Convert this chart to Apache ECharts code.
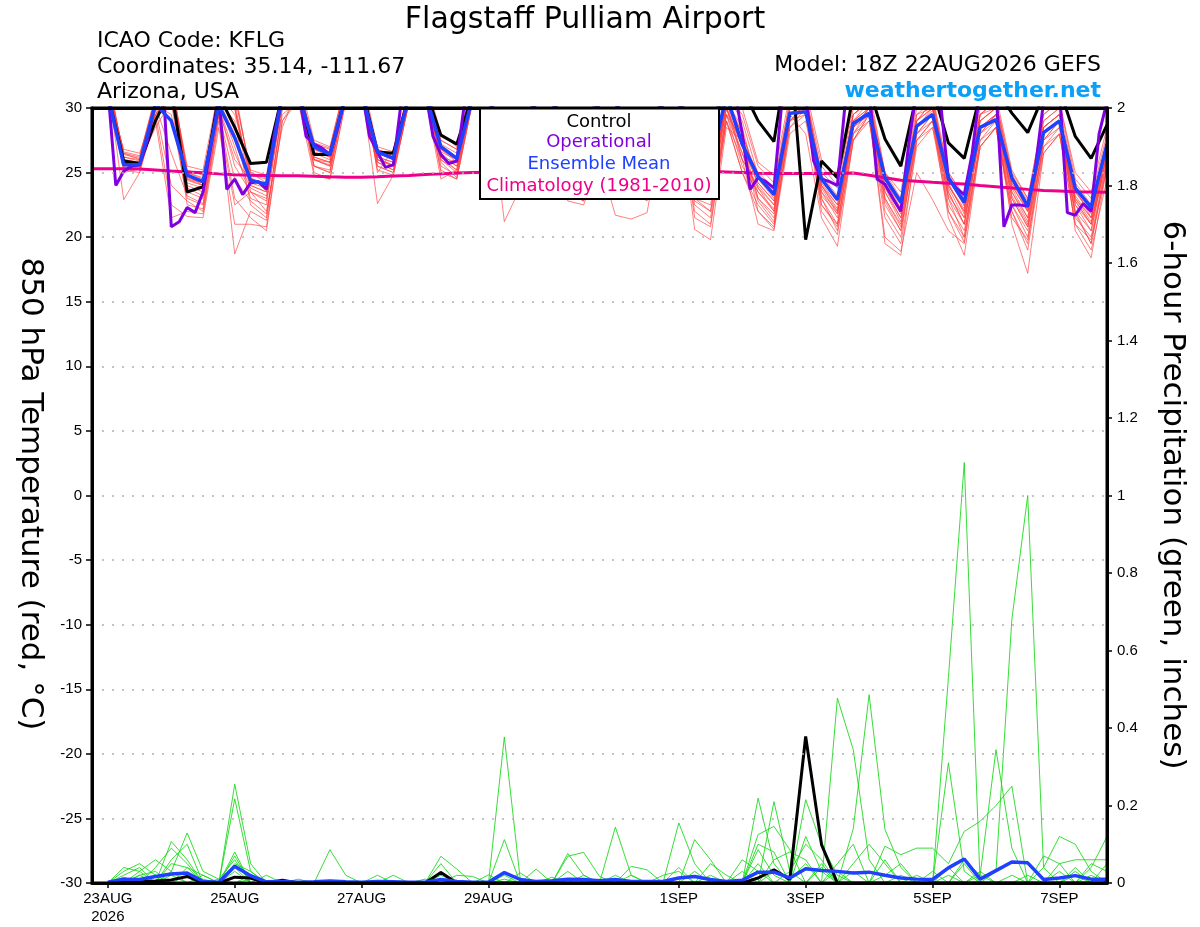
<!DOCTYPE html>
<html><head><meta charset="utf-8">
<script src="https://cdn.jsdelivr.net/npm/echarts@6/dist/echarts.min.js"></script>
<style>html,body{margin:0;padding:0;background:#fff}#chart{width:1200px;height:927px}</style>
</head><body><div id="chart"></div>
<script>
// hours are counted from the model run, 18Z 22AUG2026
const tickHours = [6, 54, 102, 150, 222, 270, 318, 366];
const tickLabels = ['23AUG\n2026', '25AUG', '27AUG', '29AUG', '1SEP', '3SEP', '5SEP', '7SEP'];
const SIX_HOURLY_START = 6;   // 00Z 23AUG
const CLIMO_START = 0;        // 18Z 22AUG

const controlTemp = [31.0, 25.9,25.7,29.0,31.5, 23.5,23.9,31.0,28.5, 25.7,25.8,31.0,31.5, 26.4,26.4,31.0,31.5, 26.6,26.5,31.0,31.5, 27.9,27.2,31.0,31.5, 26.5,26.0,31.0,31.5, 26.8,26.2,31.0,31.2, 26.0,25.5,31.0,31.5, 26.2,27.5,32.0,31.5, 29.0,27.4,35.0,19.8, 25.9,24.6,31.0,31.5, 27.6,25.5,31.0,31.5, 27.3,26.1,31.0,31.5, 29.6,28.1,31.0,31.5, 27.8,26.1,28.7];

// operational run is 3-hourly
const operationalTemp = [
  31.5,24.0,25.1,25.5,25.6,27.5,30.5,31.5,
  20.8,21.2,22.3,21.9,23.5,27.0,30.8,23.7,
  24.5,23.3,24.2,24.3,23.7,28.0,31.0,31.5,
  31.5,27.8,27.2,26.9,26.4,28.5,31.0,31.5,
  31.5,27.8,26.6,25.4,25.6,30.5,31.5,31.5,
  31.5,27.8,26.4,25.7,25.9,30.5,31.5,31.5,
  31.5,27.5,26.5,26.0,25.8,29.0,31.5,31.5,
  31.5,27.0,26.2,25.6,25.4,29.5,31.5,31.5,
  31.5,27.2,26.0,25.5,25.2,29.0,31.5,31.5,
  31.5,27.0,26.0,25.6,25.4,30.5,31.5,31.5,
  28.0,23.7,24.6,24.3,23.8,30.5,32.0,32.0,
  31.0,25.9,24.5,24.3,24.0,30.5,32.0,32.0,
  31.5,24.5,24.1,23.0,22.0,27.2,31.5,32.0,
  31.5,30.5,24.5,23.8,23.3,26.5,31.5,32.0,
  31.5,20.8,22.5,22.5,22.4,25.5,30.5,32.0,
  31.5,21.9,21.7,22.6,22.0,28.0,30.5];

const meanTemp = [31.0, 25.6,25.6,30.3,29.0, 24.8,24.3,30.2,27.7, 24.4,24.1,31.0,31.2, 27.0,26.4,31.0,31.2, 26.6,26.1,31.0,31.2, 27.0,26.1,30.8,31.0, 25.8,25.4,30.6,30.8, 26.0,25.5,30.5,30.6, 25.6,25.0,30.4,30.5, 25.2,25.5,31.0,27.2, 24.7,23.3,29.6,29.7, 24.5,22.9,28.8,29.6, 24.6,22.7,28.6,29.5, 24.6,22.7,28.5,29.1, 24.6,22.4,28.1,29.0, 23.8,22.3,27.2];

const climoTemp = [25.3, 25.3, 25.3,25.28,25.2,25.12, 25.05,24.98,24.9,24.84, 24.8,24.78,24.76,24.75, 24.72,24.67,24.63,24.63, 24.68,24.74,24.78,24.85, 24.9,24.97,25.0,25.03, 25.05,25.06,25.07,25.08, 25.09,25.1,25.1,25.11, 25.12,25.12,25.13,25.13, 25.13,25.1,25.05,25.0, 24.95,24.93,24.92,24.92, 24.93,24.95,24.97,24.8, 24.6,24.4,24.33,24.25, 24.18,24.12,24.0,23.9, 23.8,23.7,23.62,23.57, 23.52,23.5,23.47];

const tempMembers = [
  [32.0, 26.2,25.9,30.5,32.5, 24.8,24.0,31.0,30.0, 24.5,24.0,31.2,32.0, 27.0,26.5,31.5,32.0, 26.8,26.2,31.0,32.0, 27.2,26.5,31.5,32.2, 26.0,25.5,31.0,32.0, 26.2,25.8,31.0,31.5, 25.5,25.0,30.5,31.0, 25.0,24.6,30.8,28.0, 24.5,23.0,30.0,31.0, 24.2,22.5,29.0,30.5, 24.5,22.0,29.0,30.5, 24.0,22.0,29.5,30.0, 24.5,22.0,28.5,29.5, 23.5,22.0,27.0],
  [31.5, 25.5,25.6,29.5,31.0, 23.8,23.2,30.5,27.0, 23.0,22.5,30.5,31.5, 26.5,26.0,31.5,32.0, 26.0,25.6,31.0,31.5, 26.5,25.5,31.0,32.0, 25.8,25.2,31.0,31.8, 25.5,25.0,30.8,31.2, 24.8,24.2,30.5,30.8, 24.0,23.5,30.5,26.0, 23.8,22.5,29.5,30.5, 23.5,22.0,28.0,30.0, 23.8,21.5,28.5,29.8, 23.5,21.0,28.0,29.5, 23.8,21.5,28.0,29.0, 23.0,21.5,26.5],
  [32.5, 25.0,25.3,29.0,21.5, 22.0,21.8,29.0,22.5, 23.5,22.0,28.5,31.5, 25.5,25.0,31.0,32.0, 25.8,25.2,31.0,31.5, 26.0,25.2,31.0,31.8, 24.0,23.5,30.5,31.5, 23.5,22.8,30.0,31.0, 24.0,23.0,29.5,30.5, 23.0,22.0,29.0,25.0, 22.5,21.0,28.5,30.0, 23.0,20.5,27.5,29.5, 22.0,20.0,28.0,29.0, 22.5,20.5,27.0,28.5, 22.0,19.5,27.5,29.0, 21.5,20.0,26.0],
  [31.0, 26.8,26.5,30.0,32.0, 25.5,25.2,31.5,31.0, 25.0,24.6,32.0,32.5, 27.5,27.0,32.0,32.5, 27.0,26.6,31.5,32.5, 28.0,27.0,32.0,32.5, 26.8,26.2,31.5,32.0, 27.0,26.5,31.5,32.0, 26.5,26.0,31.0,31.5, 26.0,25.5,31.0,30.0, 25.8,24.8,31.0,31.5, 26.0,24.5,30.5,31.5, 25.0,23.5,30.5,31.0, 25.0,23.2,30.0,31.0, 25.2,23.0,29.5,30.5, 25.0,23.5,28.5],
  [31.8, 22.9,25.0,29.8,31.5, 24.2,23.8,30.5,29.0, 22.5,21.5,30.0,31.0, 26.0,25.5,31.0,31.5, 22.6,24.8,30.5,31.5, 25.5,24.8,30.8,31.5, 21.2,23.8,30.0,31.0, 24.8,24.0,30.5,31.0, 24.2,23.5,30.0,30.5, 22.5,21.5,29.5,27.5, 23.0,21.8,29.0,30.5, 22.5,21.0,28.5,30.0, 23.0,20.8,28.0,29.5, 23.0,20.0,28.5,29.0, 22.5,20.5,27.5,29.0, 22.0,20.5,26.5],
  [32.2, 25.8,25.4,30.2,29.5, 23.0,22.5,29.5,18.7, 22.0,21.3,30.0,31.5, 26.2,25.8,31.5,32.0, 26.2,25.8,31.2,32.0, 26.8,26.0,31.5,32.0, 25.5,25.0,31.0,31.5, 25.0,24.5,30.5,31.2, 25.0,24.5,30.5,31.0, 24.5,24.0,30.5,27.0, 24.2,22.8,30.0,31.0, 24.8,23.2,29.5,30.5, 24.5,22.5,29.0,30.0, 24.8,22.8,29.0,30.0, 24.0,22.0,28.5,29.5, 23.8,21.5,27.5],
  [31.2, 26.0,25.8,28.5,30.5, 24.5,24.0,30.0,26.5, 23.8,23.2,30.5,31.0, 26.8,26.2,31.0,31.8, 26.5,26.0,30.8,31.5, 26.0,25.0,30.5,31.5, 25.2,24.8,30.5,31.5, 22.8,22.5,26.0,21.7, 21.4,21.9,29.0,30.5, 23.5,23.0,30.0,26.5, 23.5,22.0,29.5,30.0, 23.8,21.8,28.5,29.5, 19.5,18.6,27.5,28.5, 23.2,21.5,28.0,29.0, 23.0,20.8,27.0,28.5, 22.5,21.0,26.0],
  [32.0, 26.5,26.0,30.8,32.0, 25.0,24.5,31.0,30.5, 24.0,23.5,31.0,31.5, 26.0,25.5,31.0,32.0, 26.5,26.0,31.0,32.0, 27.0,26.0,31.5,32.0, 25.5,25.0,31.0,31.5, 25.8,25.0,31.0,31.5, 24.5,24.0,30.0,30.0, 20.6,19.8,28.5,27.5, 22.0,20.6,29.0,30.0, 23.5,21.5,28.5,30.0, 23.0,21.0,28.5,29.5, 22.0,19.6,27.5,29.0, 23.5,21.2,28.0,29.0, 22.8,21.0,26.5],
  [31.5, 25.6,25.2,29.8,31.5, 24.0,23.5,30.5,28.0, 24.2,23.8,31.0,31.5, 25.0,24.5,30.5,31.5, 25.5,25.0,30.5,31.0, 24.5,25.2,31.0,31.5, 25.0,24.6,30.5,31.5, 24.5,24.0,30.5,31.0, 25.0,24.0,30.5,31.0, 24.8,24.2,30.0,27.0, 23.0,21.5,29.5,28.0, 21.5,19.3,27.5,29.0, 22.5,20.5,27.5,29.0, 23.5,21.0,28.5,29.5, 21.0,17.2,26.5,28.0, 22.0,19.5,26.0],
  [32.8, 26.0,25.8,30.5,32.0, 25.2,24.8,31.0,31.5, 24.8,24.5,31.5,32.0, 27.2,26.8,32.0,32.5, 26.5,26.2,31.5,32.0, 27.5,26.8,32.0,32.5, 26.5,26.0,31.5,32.0, 26.5,26.0,31.5,32.0, 26.0,25.5,31.0,31.5, 25.5,25.0,31.0,29.0, 24.8,23.5,30.0,30.5, 25.0,23.8,30.0,31.0, 24.2,22.0,29.0,30.5, 24.5,22.5,29.5,30.5, 24.2,22.5,29.0,30.0, 20.5,18.4,25.5],
  [31.0, 25.4,25.5,29.5,31.0, 23.5,23.0,30.0,25.5, 23.5,22.8,30.5,31.0, 26.0,25.8,31.2,31.8, 25.2,24.8,30.5,31.5, 26.8,25.8,31.2,32.0, 24.5,24.0,30.5,31.0, 24.0,23.2,30.0,31.0, 23.5,22.8,30.0,30.5, 21.5,20.8,29.0,26.0, 24.0,22.5,29.5,30.0, 24.0,22.0,29.0,30.0, 24.0,21.8,28.5,30.0, 24.2,21.8,28.5,29.5, 23.2,21.0,28.0,29.0, 22.8,21.0,27.0],
  [32.0, 26.5,26.2,31.0,31.5, 24.6,24.2,31.0,29.5, 25.0,24.2,31.0,32.0, 26.8,26.4,31.5,32.0, 26.2,25.5,31.0,31.5, 25.8,24.6,30.5,31.5, 26.2,25.8,31.2,32.0, 25.5,24.8,31.0,31.5, 25.2,24.8,30.8,31.0, 24.2,23.8,30.5,27.5, 25.0,23.8,30.5,31.0, 24.5,23.0,29.5,30.5, 24.8,22.8,29.5,30.5, 25.0,23.0,29.5,30.5, 24.8,22.8,29.0,30.0, 24.2,22.5,27.5],
  [31.5, 25.8,25.5,30.0,24.0, 22.8,22.0,29.5,24.5, 22.8,21.8,29.5,30.5, 26.2,25.8,31.0,31.5, 26.0,25.5,31.0,31.5, 26.2,25.5,31.0,31.5, 25.0,24.5,30.5,31.0, 24.2,23.8,30.5,31.0, 24.5,23.8,30.0,30.5, 23.0,22.5,29.5,26.5, 22.8,21.2,29.0,29.5, 22.0,20.2,27.5,29.5, 22.8,20.5,27.5,29.0, 21.5,18.6,27.0,28.5, 22.5,20.0,27.5,28.5, 21.8,19.5,25.5],
  [32.0, 26.2,26.0,30.5,31.5, 24.4,24.0,30.5,27.5, 24.0,23.5,30.5,31.5, 25.5,25.0,31.0,31.5, 26.0,25.5,31.0,31.5, 26.2,25.8,31.0,32.0, 25.0,24.4,30.5,31.5, 25.2,24.5,30.5,31.0, 24.0,23.5,30.0,30.5, 23.5,23.0,30.0,26.0, 21.0,20.5,28.0,29.0, 23.0,21.0,28.0,29.5, 20.0,18.9,25.0,22.9, 20.5,19.5,27.0,28.5, 22.0,19.0,27.0,28.0, 21.0,19.0,24.5],
  [31.5, 25.2,25.0,29.2,30.5, 22.5,22.2,29.5,23.0, 21.5,20.5,29.0,31.0, 25.5,25.2,30.8,31.5, 25.8,25.2,30.8,31.5, 25.0,24.5,30.5,31.5, 24.8,24.2,30.5,31.0, 25.2,24.6,30.8,31.2, 24.5,24.0,30.0,30.5, 22.8,22.0,29.5,25.5, 23.5,22.2,29.0,30.0, 23.2,21.8,28.5,29.5, 23.5,21.2,28.0,29.5, 23.8,21.5,28.5,29.5, 23.0,20.8,28.0,29.0, 22.5,20.5,26.5],
  [32.5, 26.0,25.6,30.0,32.0, 24.5,24.2,31.0,30.0, 23.5,23.0,30.5,31.5, 26.6,26.2,31.5,32.0, 26.2,25.8,31.0,31.8, 27.0,26.2,31.5,32.0, 25.5,25.2,31.0,31.5, 25.8,25.2,31.0,31.5, 25.2,24.6,30.5,31.0, 24.0,23.5,30.0,27.0, 24.2,22.8,30.0,30.5, 24.0,22.5,29.5,30.5, 24.5,22.2,29.5,30.0, 24.5,22.4,29.0,30.0, 24.0,22.0,28.5,29.5, 23.5,21.8,27.0],
  [31.8, 25.9,25.7,30.2,26.5, 23.2,22.6,29.8,26.0, 24.5,23.8,31.0,31.5, 26.0,25.6,31.0,31.5, 26.8,26.3,31.5,32.0, 26.2,25.2,31.0,31.5, 25.5,25.0,31.0,31.5, 23.5,22.8,30.0,31.0, 25.0,24.5,30.5,31.0, 24.5,24.0,30.5,28.0, 24.5,23.2,30.0,30.5, 24.5,22.8,29.5,30.5, 24.0,22.0,29.0,30.0, 24.0,22.0,29.0,30.0, 24.2,22.2,28.5,29.5, 23.2,21.5,27.0],
  [32.0, 26.4,26.1,30.5,31.8, 25.0,24.6,31.0,31.0, 25.2,24.8,31.5,32.0, 27.0,26.6,31.5,32.0, 26.6,26.2,31.5,32.0, 27.5,26.8,32.0,32.5, 26.0,25.5,31.5,32.0, 26.2,25.5,31.0,31.5, 25.8,25.2,31.0,31.5, 25.2,24.8,31.0,29.5, 25.5,24.2,30.5,31.0, 25.5,24.0,30.5,31.0, 25.0,23.0,30.0,31.0, 24.0,22.2,29.5,30.5, 25.0,23.0,29.5,30.5, 24.5,23.0,28.0],
  [31.2, 25.7,25.3,29.5,22.5, 21.6,21.5,28.5,21.0, 21.0,20.8,29.0,30.5, 24.8,24.5,30.5,31.0, 25.5,25.0,30.5,31.0, 25.2,24.5,30.5,31.0, 24.0,23.2,30.0,31.0, 24.5,23.8,30.0,30.5, 23.8,23.0,29.5,30.0, 22.0,21.0,29.0,25.0, 22.0,20.8,28.5,29.5, 22.5,20.8,28.0,29.0, 21.5,19.5,27.0,28.5, 22.0,20.0,27.5,28.5, 21.5,19.8,26.5,28.0, 21.0,19.8,25.5],
  [31.6, 26.6,26.3,30.8,32.0, 24.9,24.3,31.0,30.0, 24.6,24.0,31.0,31.5, 27.3,26.9,31.8,32.5, 25.0,26.8,31.5,32.0, 26.6,26.0,31.2,32.0, 25.8,25.5,31.0,31.5, 26.0,25.5,31.0,31.5, 25.5,25.0,30.8,31.2, 25.0,24.5,30.5,28.5, 23.8,22.0,29.5,30.5, 24.0,22.2,29.0,30.0, 23.5,21.5,28.5,29.5, 23.0,21.0,28.0,29.5, 23.5,21.5,28.0,29.0, 23.0,21.2,26.5]
];

const controlPrecip = [
  0,0.002,0.003,0.005,0.008,0.017,0,0,
  0.015,0.013,0,0.007,0,0,0,0,
  0,0,0,0,0,0.027,0,0,
  0,0,0,0,0,0,0,0,
  0,0,0,0,0,0,0,0,
  0,0.013,0.034,0.009,0.378,0.099,0,0,
  0,0,0,0,0,0,0,0,
  0,0,0,0,0,0,0,0];

const meanPrecip = [
  0.002,0.01,0.009,0.017,0.023,0.026,0.004,0.002,
  0.043,0.019,0.003,0.004,0.002,0.003,0.005,0.003,
  0.002,0.004,0.003,0.002,0.002,0.009,0.004,0.002,
  0.002,0.027,0.009,0.004,0.006,0.01,0.009,0.006,
  0.009,0.004,0.004,0.004,0.013,0.017,0.009,0.004,
  0.007,0.028,0.028,0.013,0.037,0.032,0.03,0.026,
  0.028,0.02,0.013,0.01,0.009,0.039,0.062,0.01,
  0.032,0.054,0.052,0.009,0.013,0.019,0.01,0.01];

const precipMembers = [
  [0,0.03,0.05,0.02,0,0,0,0, 0.255,0.05,0,0,0,0,0,0, 0,0,0,0,0,0,0,0, 0,0.377,0.01,0,0,0,0,0, 0,0,0,0,0,0,0,0, 0,0,0,0,0,0,0.477,0.344, 0.06,0,0,0,0,0.02,0,0, 0,0,0,0,0,0,0,0],
  [0,0,0.02,0,0.107,0.06,0,0, 0.217,0.03,0,0,0,0,0,0, 0,0,0,0,0,0,0,0, 0,0.112,0,0,0,0.076,0.02,0, 0,0,0,0,0,0,0,0, 0,0,0,0,0,0,0,0.14, 0.486,0.138,0.04,0,0,0,0,0, 0,0,0,0,0.05,0,0,0],
  [0,0,0,0,0.03,0.129,0.03,0.01, 0.06,0,0,0,0,0,0.086,0.02, 0,0,0,0,0,0,0,0, 0,0,0,0,0,0,0,0, 0.144,0.02,0,0,0,0,0,0, 0,0.219,0.05,0,0,0,0,0, 0,0,0,0,0,0.31,0.03,0, 0,0,0,0,0,0.03,0,0],
  [0,0,0,0.04,0.09,0.05,0,0, 0.08,0,0,0,0,0,0,0, 0,0,0,0,0,0.069,0.036,0, 0,0,0,0,0,0,0,0, 0,0,0,0,0.155,0.05,0,0, 0,0,0.21,0.03,0,0,0,0, 0,0,0,0,0,0.53,1.085,0, 0,0,0,0,0,0,0,0],
  [0,0.02,0.04,0,0,0,0,0, 0.05,0.03,0,0,0,0,0,0, 0,0,0.02,0,0,0,0,0, 0,0,0,0,0,0.069,0.079,0.017, 0,0,0,0,0,0.112,0.06,0, 0,0.125,0.146,0.086,0,0,0,0, 0,0,0,0,0,0,0,0, 0.03,0.68,1.0,0.04,0,0,0,0],
  [0,0,0,0,0.05,0.04,0,0, 0,0,0,0,0,0,0,0, 0,0.02,0,0,0,0.05,0,0, 0.021,0,0,0,0,0,0,0, 0,0,0,0,0,0,0,0, 0,0,0,0,0.215,0.099,0.02,0, 0,0,0,0,0,0,0,0.02, 0.344,0.09,0,0,0,0,0,0],
  [0,0,0.03,0.06,0.03,0,0,0, 0,0,0.02,0,0,0,0,0, 0,0,0,0,0,0,0,0, 0,0,0,0.036,0,0,0,0, 0,0,0,0,0,0,0,0, 0,0.086,0.02,0,0,0,0,0, 0,0.095,0.073,0.09,0.09,0.05,0.133,0.159, 0.2,0.25,0,0,0,0,0,0],
  [0,0.015,0,0,0,0,0,0, 0.04,0,0,0,0,0,0,0, 0,0,0,0,0,0,0.02,0.017, 0,0,0.026,0,0,0,0,0, 0,0.043,0.034,0,0,0,0,0, 0.06,0.03,0,0,0,0.05,0,0, 0,0.02,0.05,0,0,0,0,0, 0,0,0,0.04,0.12,0.1,0.03,0],
  [0,0,0,0,0,0.02,0.01,0, 0,0,0,0,0,0,0,0, 0,0,0,0,0,0,0,0, 0,0,0,0,0,0,0,0, 0,0,0,0.02,0.03,0,0,0, 0,0,0.03,0.01,0.05,0,0,0.05, 0.1,0.05,0,0,0,0,0,0, 0,0,0,0,0,0,0.04,0.12],
  [0,0,0,0.02,0,0,0,0, 0,0.02,0,0,0,0,0,0, 0,0,0,0,0,0,0,0, 0,0,0,0,0,0,0,0, 0,0,0,0,0,0,0.02,0, 0,0,0,0,0,0,0.05,0.1, 0,0,0,0,0,0,0,0, 0,0,0,0.07,0.05,0.06,0.06,0.06],
  [0,0,0,0,0.02,0,0,0, 0.03,0,0,0,0,0,0,0, 0,0,0,0,0,0,0,0, 0,0.02,0,0,0,0,0,0, 0,0,0,0,0,0,0,0, 0,0,0.06,0.08,0.06,0,0,0, 0,0,0,0,0,0,0.05,0, 0,0,0,0,0,0.04,0,0],
  [0,0,0.01,0,0,0,0.02,0, 0,0,0,0,0,0,0,0, 0,0,0,0,0.01,0,0,0, 0,0,0,0,0,0,0.02,0, 0,0,0,0,0,0,0,0, 0.03,0,0,0,0,0.04,0,0, 0,0,0.02,0,0,0,0,0.03, 0,0,0,0,0,0,0.02,0],
  [0,0.04,0.03,0,0,0,0,0.01, 0,0,0,0,0,0,0,0, 0,0,0,0,0,0,0,0, 0,0,0,0,0.015,0,0,0, 0.02,0,0,0,0,0.03,0,0, 0,0.05,0,0,0,0,0.03,0, 0,0,0,0.02,0,0,0,0, 0,0.02,0,0,0,0.02,0,0],
  [0,0,0,0,0.06,0.1,0,0, 0,0.01,0,0,0,0,0,0, 0,0,0,0,0,0.03,0,0, 0,0,0,0,0,0.03,0,0, 0,0,0,0,0.04,0,0,0, 0,0,0,0.03,0.1,0.06,0,0, 0,0.06,0,0,0,0.04,0,0, 0,0,0,0,0,0,0.05,0.03],
  [0,0,0.02,0.03,0,0,0,0, 0.07,0,0,0,0.01,0,0,0, 0,0,0,0,0,0,0,0, 0,0.01,0,0,0,0,0,0.01, 0,0,0,0,0,0,0.05,0.02, 0,0.1,0.08,0,0,0,0,0, 0,0,0,0,0,0,0.06,0.02, 0,0,0,0,0.03,0,0,0],
  [0,0,0,0,0,0.04,0.02,0, 0,0,0,0,0,0,0,0, 0,0,0,0,0,0.02,0,0, 0,0,0,0,0,0,0,0, 0,0.02,0,0,0,0,0,0, 0,0,0,0,0.12,0.03,0,0.03, 0,0,0,0,0.03,0,0,0, 0,0,0.02,0,0,0,0,0.05]
];

function toPairs(values, start, step) {
  return values.map((v, k) => [start + step * k, v]);
}

const series = [];
tempMembers.forEach((m, n) => series.push({
  name: 'member' + n, type: 'line', yAxisIndex: 0, data: toPairs(m, SIX_HOURLY_START, 6),
  symbol: 'none', silent: true, z: 2,
  lineStyle: { width: 1, color: 'rgba(255,60,60,0.65)' }
}));
precipMembers.forEach((m, n) => series.push({
  name: 'pmember' + n, type: 'line', yAxisIndex: 1, data: toPairs(m, SIX_HOURLY_START, 6),
  symbol: 'none', silent: true, z: 2,
  lineStyle: { width: 1, color: 'rgba(20,215,20,0.85)' }
}));
series.push(
  { name: 'Climatology', type: 'line', yAxisIndex: 0, data: toPairs(climoTemp, CLIMO_START, 6), symbol: 'none', z: 3, lineStyle: { width: 3, color: '#ee0088' } },
  { name: 'Control', type: 'line', yAxisIndex: 0, data: toPairs(controlTemp, SIX_HOURLY_START, 6), symbol: 'none', z: 4, lineStyle: { width: 3, color: '#000' } },
  { name: 'ControlP', type: 'line', yAxisIndex: 1, data: toPairs(controlPrecip, SIX_HOURLY_START, 6), symbol: 'none', z: 4, lineStyle: { width: 3, color: '#000' } },
  { name: 'Operational', type: 'line', yAxisIndex: 0, data: toPairs(operationalTemp, SIX_HOURLY_START, 3), symbol: 'none', z: 5, lineStyle: { width: 3, color: '#8000e0' } },
  { name: 'Mean', type: 'line', yAxisIndex: 0, data: toPairs(meanTemp, SIX_HOURLY_START, 6), symbol: 'none', z: 6, lineStyle: { width: 3.5, color: '#2040ff' } },
  { name: 'MeanP', type: 'line', yAxisIndex: 1, data: toPairs(meanPrecip, SIX_HOURLY_START, 6), symbol: 'none', z: 6, lineStyle: { width: 3.5, color: '#2040ff' } }
);

const HEAD = '"DejaVu Sans", Verdana, sans-serif';
function txt(text, x, y, size, align, color, extra) {
  return Object.assign({
    type: 'text', x: x, y: y, z: 100,
    style: { text: text, font: size + 'px ' + HEAD, fill: color || '#000',
      align: align, verticalAlign: 'middle', textAlign: align, textVerticalAlign: 'middle' }
  }, extra || {});
}

const graphic = [
  txt('Flagstaff Pulliam Airport', 585, 20, 30, 'center'),
  txt('ICAO Code: KFLG', 97, 41.5, 22, 'left'),
  txt('Coordinates: 35.14, -111.67', 97, 67, 22, 'left'),
  txt('Arizona, USA', 97, 92, 22, 'left'),
  txt('Model: 18Z 22AUG2026 GEFS', 1101, 65.5, 22, 'right'),
  { type: 'text', x: 1101, y: 91.5, z: 100,
    style: { text: 'weathertogether.net', font: 'bold 22px ' + HEAD, fill: '#0aa0f8',
      align: 'right', verticalAlign: 'middle', textAlign: 'right', textVerticalAlign: 'middle' } },
  txt('850 hPa Temperature (red, °C)', 30, 494, 31, 'center', '#000', { rotation: -Math.PI / 2 }),
  txt('6-hour Precipitation (green, inches)', 1172, 495, 31, 'center', '#000', { rotation: -Math.PI / 2 }),
  { type: 'rect', z: 100, shape: { x: 480, y: 108.5, width: 239, height: 90.5 },
    style: { fill: '#fff', stroke: '#000', lineWidth: 2 } },
  txt('Control', 599, 122, 18, 'center', '#000', { z: 101 }),
  txt('Operational', 599, 142, 18, 'center', '#8000e0', { z: 101 }),
  txt('Ensemble Mean', 599, 164.5, 18, 'center', '#2040ff', { z: 101 }),
  txt('Climatology (1981-2010)', 599, 186.5, 18, 'center', '#ee0088', { z: 101 })
];

const chart = echarts.init(document.getElementById('chart'), null, { renderer: 'canvas' });
chart.setOption({
  animation: false,
  backgroundColor: '#fff',
  textStyle: { fontFamily: '"Liberation Sans", Arial, sans-serif' },
  grid: { left: 92, right: 93, top: 108, bottom: 44, show: true, borderColor: '#000', borderWidth: 3, z: 10 },
  xAxis: [{
    type: 'value', min: 0, max: 384, z: 10, position: 'bottom',
    axisLine: { show: true, onZero: false, lineStyle: { color: '#000', width: 3 } },
    axisTick: { show: true, customValues: tickHours, length: 5, lineStyle: { color: '#000', width: 1.5 } },
    axisLabel: { show: true, customValues: tickHours, color: '#000', fontSize: 15, margin: 7, lineHeight: 18,
      formatter: function (v) { const k = tickHours.indexOf(v); return k >= 0 ? tickLabels[k] : ''; } },
    splitLine: { show: false }
  }, {
    type: 'value', min: 0, max: 384, z: 10, position: 'top',
    axisLine: { show: true, onZero: false, lineStyle: { color: '#000', width: 3 } },
    axisTick: { show: false }, axisLabel: { show: false }, splitLine: { show: false }
  }],
  yAxis: [
    { type: 'value', min: -30, max: 30, interval: 5, position: 'left', z: 10,
      axisLine: { show: true, onZero: false, lineStyle: { color: '#000', width: 3 } },
      axisTick: { show: true, inside: false, length: 6, lineStyle: { color: '#000', width: 1.5 } },
      axisLabel: { color: '#000', fontSize: 15, margin: 10 },
      splitLine: { show: true, showMinLine: false, showMaxLine: false, lineStyle: { color: '#b0b0b0', width: 1.5, type: [2, 8] } } },
    { type: 'value', min: 0, max: 2, interval: 0.2, position: 'right', z: 10,
      axisLine: { show: true, onZero: false, lineStyle: { color: '#000', width: 3 } },
      axisTick: { show: true, inside: false, length: 5, lineStyle: { color: '#000', width: 1.5 } },
      axisLabel: { color: '#000', fontSize: 15, margin: 10 },
      splitLine: { show: false } }
  ],
  graphic: graphic,
  series: series
});
</script>
</body></html>
